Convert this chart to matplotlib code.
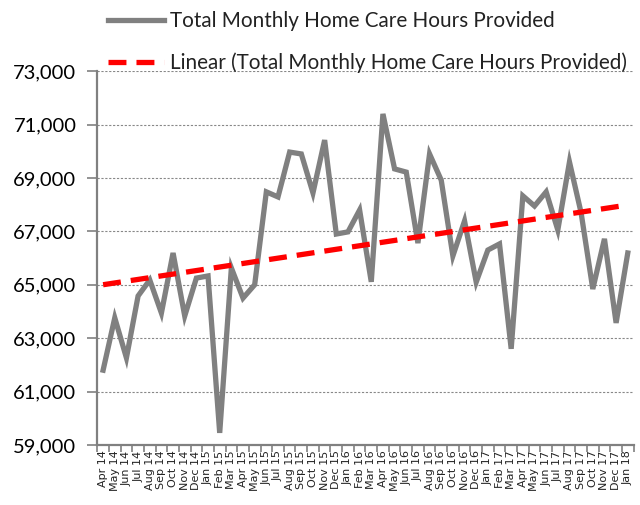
import numpy as np
import matplotlib
matplotlib.use('agg')
import matplotlib.pyplot as plt
from matplotlib.ticker import FuncFormatter, FixedLocator

months = ['Apr 14', 'May 14', 'Jun 14', 'Jul 14', 'Aug 14', 'Sep 14', 'Oct 14', 'Nov 14', 'Dec 14',
          'Jan 15', 'Feb 15', 'Mar 15', 'Apr 15', 'May 15', 'Jun 15', 'Jul 15', 'Aug 15', 'Sep 15',
          'Oct 15', 'Nov 15', 'Dec 15', 'Jan 16', 'Feb 16', 'Mar 16', 'Apr 16', 'May 16', 'Jun 16',
          'Jul 16', 'Aug 16', 'Sep 16', 'Oct 16', 'Nov 16', 'Dec 16', 'Jan 17', 'Feb 17', 'Mar 17',
          'Apr 17', 'May 17', 'Jun 17', 'Jul 17', 'Aug 17', 'Sep 17', 'Oct 17', 'Nov 17', 'Dec 17',
          'Jan 18']

hours = [61800, 63760, 62260, 64580, 65180, 63940, 66190, 63830, 65250,
         65330, 59450, 65630, 64500, 65000, 68480, 68290, 69970, 69900,
         68440, 70420, 66900, 66980, 67800, 65110, 71400, 69340, 69220,
         66560, 69900, 68920, 66080, 67390, 65100, 66300, 66530, 62600,
         68330, 67950, 68480, 67050, 69600, 67690, 64840, 66720, 63570,
         66190]

series_name = 'Total Monthly Home Care Hours Provided'

x = np.arange(len(months))
slope, icpt = np.polyfit(x, hours, 1)
trend = slope * x + icpt

fig = plt.figure(figsize=(6.4, 5.05), dpi=100)
ax = fig.add_axes([0.152, 0.119, 0.838, 0.740])

ax.plot(x, hours, color='#808080', lw=3.8, solid_joinstyle='miter', label=series_name, zorder=3)
ax.plot(x, trend, color='#ff0000', lw=3.8, dashes=(3.4, 1.9), label='Linear (' + series_name + ')', zorder=4)

ax.set_xlim(-0.5, len(months) - 0.5)
ax.set_ylim(59000, 73000)
ax.set_yticks(np.arange(59000, 73001, 2000))
ax.yaxis.set_major_formatter(FuncFormatter(lambda v, p: '{:,.0f}'.format(v)))
ax.grid(axis='y', color='#888888', ls=(0, (2, 1.5)), lw=0.8)
ax.set_axisbelow(True)

ax.set_xticks(x)
ax.set_xticklabels(months, rotation=90, fontsize=8, family='DejaVu Sans', color='#222222')
ax.xaxis.set_minor_locator(FixedLocator(np.arange(-0.5, len(months), 1)))
ax.tick_params(axis='x', which='major', length=0, pad=4)
ax.tick_params(axis='x', which='minor', length=5, color='#808080', width=1.2)
ax.tick_params(axis='y', length=7, color='#808080', width=1.2, labelsize=14.5, pad=8)
for lab in ax.get_yticklabels():
    lab.set_family(['Lato', 'DejaVu Sans'])

for s in ['top', 'right']:
    ax.spines[s].set_visible(False)
for s in ['left', 'bottom']:
    ax.spines[s].set_color('#808080')
    ax.spines[s].set_linewidth(1.6)

leg = fig.legend(loc='upper left', bbox_to_anchor=(0.14, 1.015), frameon=False,
                 prop={'family': ['Lato', 'DejaVu Sans'], 'size': 14.9},
                 handlelength=2.7, handletextpad=0.3, labelspacing=1.05)
for t in leg.get_texts():
    t.set_color('#222222')

plt.savefig('out.png', dpi=100)
